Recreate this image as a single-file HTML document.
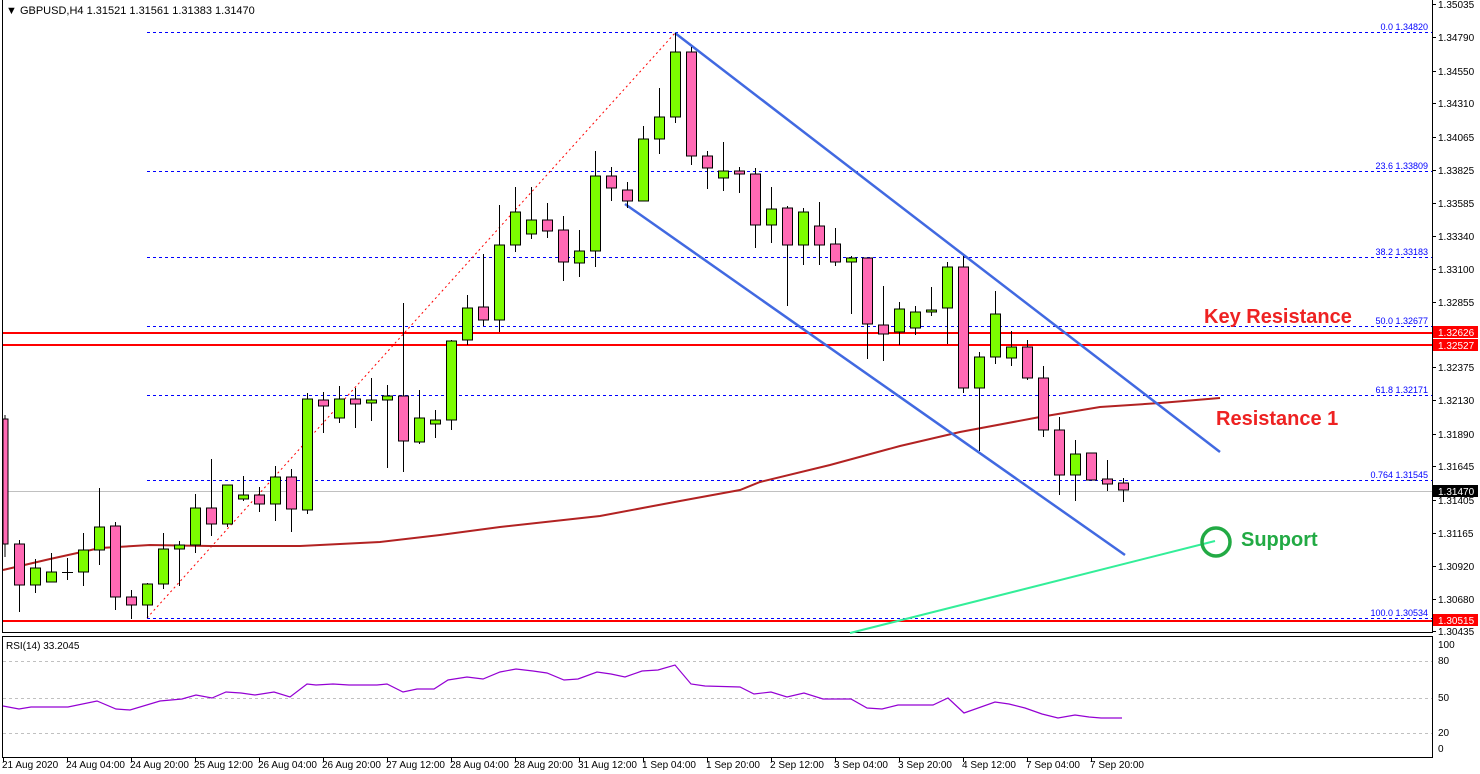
<!DOCTYPE html>
<html><head><meta charset="utf-8"><style>
html,body{margin:0;padding:0;background:#fff;}
svg{display:block;font-family:"Liberation Sans",sans-serif;}
</style></head><body>
<svg width="1480" height="774" viewBox="0 0 1480 774" xmlns="http://www.w3.org/2000/svg">
<rect width="1480" height="774" fill="#fff"/>
<!-- frames -->
<line x1="2.5" y1="0" x2="2.5" y2="633" stroke="#000"/>
<line x1="1432.5" y1="0" x2="1432.5" y2="633" stroke="#000"/>
<line x1="2" y1="632.5" x2="1433" y2="632.5" stroke="#000"/>
<rect x="2.5" y="636.5" width="1430" height="121" fill="none" stroke="#000"/>
<text x="6" y="14" font-size="11" fill="#000">▼ GBPUSD,H4  1.31521 1.31561 1.31383 1.31470</text>

<!-- current price line -->
<line x1="3" y1="491.5" x2="1432" y2="491.5" stroke="#c0c0c0"/>

<!-- fib levels -->
<g stroke="#0000ff" stroke-dasharray="3,3" stroke-width="1">
<line x1="147" y1="32.5" x2="1432" y2="32.5"/>
<line x1="147" y1="171.5" x2="1432" y2="171.5"/>
<line x1="147" y1="257.5" x2="1432" y2="257.5"/>
<line x1="147" y1="326.5" x2="1432" y2="326.5"/>
<line x1="147" y1="395.5" x2="1432" y2="395.5"/>
<line x1="147" y1="480.5" x2="1432" y2="480.5"/>
<line x1="147" y1="618.5" x2="1432" y2="618.5"/>
</g>
<g font-size="9" fill="#0000ff" text-anchor="end">
<text x="1428" y="30">0.0 1.34820</text>
<text x="1428" y="169">23.6 1.33809</text>
<text x="1428" y="255">38.2 1.33183</text>
<text x="1428" y="324">50.0 1.32677</text>
<text x="1428" y="393">61.8 1.32171</text>
<text x="1428" y="478">0.764 1.31545</text>
<text x="1428" y="616">100.0 1.30534</text>
</g>
<!-- fib diagonal -->
<line x1="147" y1="618" x2="675" y2="33" stroke="#ff0000" stroke-dasharray="2,3"/>

<!-- red horizontal lines -->
<g stroke="#ff0000" stroke-width="2">
<line x1="3" y1="333" x2="1432" y2="333"/>
<line x1="3" y1="345" x2="1432" y2="345"/>
<line x1="3" y1="621" x2="1432" y2="621"/>
</g>

<!-- MA -->
<polyline fill="none" stroke="#b22222" stroke-width="2" points="3,570 50,559 100,548 150,545 210,546 300,546 380,542 440,535 500,527 600,516 680,501 740,490 760,482 830,465 900,446 960,432 1040,417 1100,407 1160,403 1220,398"/>
<!-- green line -->
<line x1="850" y1="633" x2="1215" y2="541" stroke="#33ee99" stroke-width="2"/>
<!-- channel -->
<line x1="675" y1="33" x2="1220" y2="452" stroke="#4169e1" stroke-width="2.5"/>
<line x1="625" y1="204" x2="1125" y2="555" stroke="#4169e1" stroke-width="2.5"/>

<!-- candles -->
<g stroke="#000" stroke-width="1">
<line x1="5" y1="415" x2="5" y2="557"/><rect x="3" y="419" width="5" height="125" fill="#ff69b4"/>
<line x1="19.5" y1="540" x2="19.5" y2="612"/><rect x="14.5" y="544" width="10" height="41" fill="#ff69b4"/>
<line x1="35.5" y1="559" x2="35.5" y2="593"/><rect x="30.5" y="568" width="10" height="17" fill="#7cfc00"/>
<line x1="51.5" y1="553" x2="51.5" y2="582"/><rect x="46.5" y="572" width="10" height="10" fill="#7cfc00"/>
<line x1="67.5" y1="558" x2="67.5" y2="580"/><line x1="62" y1="572.5" x2="73" y2="572.5"/>
<line x1="83.5" y1="533" x2="83.5" y2="586"/><rect x="78.5" y="550" width="10" height="22" fill="#7cfc00"/>
<line x1="99.5" y1="488" x2="99.5" y2="565"/><rect x="94.5" y="527" width="10" height="23" fill="#7cfc00"/>
<line x1="115.5" y1="522" x2="115.5" y2="610"/><rect x="110.5" y="526" width="10" height="71" fill="#ff69b4"/>
<line x1="131.5" y1="590" x2="131.5" y2="619"/><rect x="126.5" y="597" width="10" height="8" fill="#ff69b4"/>
<line x1="147.5" y1="583" x2="147.5" y2="618"/><rect x="142.5" y="584" width="10" height="21" fill="#7cfc00"/>
<line x1="163.5" y1="533" x2="163.5" y2="589"/><rect x="158.5" y="549" width="10" height="35" fill="#7cfc00"/>
<line x1="179.5" y1="541" x2="179.5" y2="586"/><rect x="174.5" y="545" width="10" height="4" fill="#7cfc00"/>
<line x1="195.5" y1="494" x2="195.5" y2="553"/><rect x="190.5" y="508" width="10" height="37" fill="#7cfc00"/>
<line x1="211.5" y1="459" x2="211.5" y2="536"/><rect x="206.5" y="508" width="10" height="16" fill="#ff69b4"/>
<line x1="227.5" y1="485" x2="227.5" y2="527"/><rect x="222.5" y="485" width="10" height="39" fill="#7cfc00"/>
<line x1="243.5" y1="476" x2="243.5" y2="501"/><rect x="238.5" y="495" width="10" height="4" fill="#7cfc00"/>
<line x1="259.5" y1="487" x2="259.5" y2="512"/><rect x="254.5" y="495" width="10" height="9" fill="#ff69b4"/>
<line x1="275.5" y1="466" x2="275.5" y2="521"/><rect x="270.5" y="477" width="10" height="27" fill="#7cfc00"/>
<line x1="291.5" y1="469" x2="291.5" y2="532"/><rect x="286.5" y="477" width="10" height="32" fill="#ff69b4"/>
<line x1="307.5" y1="393" x2="307.5" y2="514"/><rect x="302.5" y="399" width="10" height="111" fill="#7cfc00"/>
<line x1="323.5" y1="392" x2="323.5" y2="433"/><rect x="318.5" y="400" width="10" height="6" fill="#ff69b4"/>
<line x1="339.5" y1="386" x2="339.5" y2="423"/><rect x="334.5" y="399" width="10" height="19" fill="#7cfc00"/>
<line x1="355.5" y1="388" x2="355.5" y2="428"/><rect x="350.5" y="399" width="10" height="5" fill="#ff69b4"/>
<line x1="371.5" y1="378" x2="371.5" y2="421"/><rect x="366.5" y="400" width="10" height="3" fill="#7cfc00"/>
<line x1="387.5" y1="385" x2="387.5" y2="468"/><rect x="382.5" y="396" width="10" height="4" fill="#7cfc00"/>
<line x1="403.5" y1="303" x2="403.5" y2="472"/><rect x="398.5" y="396" width="10" height="45" fill="#ff69b4"/>
<line x1="419.5" y1="390" x2="419.5" y2="444"/><rect x="414.5" y="418" width="10" height="24" fill="#7cfc00"/>
<line x1="435.5" y1="410" x2="435.5" y2="438"/><rect x="430.5" y="420" width="10" height="4" fill="#7cfc00"/>
<line x1="451.5" y1="340" x2="451.5" y2="430"/><rect x="446.5" y="341" width="10" height="79" fill="#7cfc00"/>
<line x1="467.5" y1="295" x2="467.5" y2="345"/><rect x="462.5" y="308" width="10" height="32" fill="#7cfc00"/>
<line x1="483.5" y1="254" x2="483.5" y2="326"/><rect x="478.5" y="307" width="10" height="13" fill="#ff69b4"/>
<line x1="499.5" y1="205" x2="499.5" y2="332"/><rect x="494.5" y="245" width="10" height="75" fill="#7cfc00"/>
<line x1="515.5" y1="187" x2="515.5" y2="252"/><rect x="510.5" y="212" width="10" height="33" fill="#7cfc00"/>
<line x1="531.5" y1="187" x2="531.5" y2="239"/><rect x="526.5" y="220" width="10" height="14" fill="#7cfc00"/>
<line x1="547.5" y1="203" x2="547.5" y2="238"/><rect x="542.5" y="220" width="10" height="11" fill="#ff69b4"/>
<line x1="563.5" y1="216" x2="563.5" y2="281"/><rect x="558.5" y="230" width="10" height="32" fill="#ff69b4"/>
<line x1="579.5" y1="230" x2="579.5" y2="277"/><rect x="574.5" y="251" width="10" height="12" fill="#7cfc00"/>
<line x1="595.5" y1="151" x2="595.5" y2="267"/><rect x="590.5" y="176" width="10" height="75" fill="#7cfc00"/>
<line x1="611.5" y1="167" x2="611.5" y2="201"/><rect x="606.5" y="176" width="10" height="12" fill="#ff69b4"/>
<line x1="627.5" y1="182" x2="627.5" y2="208"/><rect x="622.5" y="190" width="10" height="11" fill="#ff69b4"/>
<line x1="643.5" y1="126" x2="643.5" y2="201"/><rect x="638.5" y="139" width="10" height="62" fill="#7cfc00"/>
<line x1="659.5" y1="88" x2="659.5" y2="154"/><rect x="654.5" y="117" width="10" height="22" fill="#7cfc00"/>
<line x1="675.5" y1="33" x2="675.5" y2="123"/><rect x="670.5" y="52" width="10" height="65" fill="#7cfc00"/>
<line x1="691.5" y1="47" x2="691.5" y2="165"/><rect x="686.5" y="52" width="10" height="104" fill="#ff69b4"/>
<line x1="707.5" y1="151" x2="707.5" y2="189"/><rect x="702.5" y="156" width="10" height="12" fill="#ff69b4"/>
<line x1="723.5" y1="142" x2="723.5" y2="191"/><rect x="718.5" y="171" width="10" height="7" fill="#7cfc00"/>
<line x1="739.5" y1="167" x2="739.5" y2="193"/><rect x="734.5" y="171" width="10" height="3" fill="#ff69b4"/>
<line x1="755.5" y1="168" x2="755.5" y2="248"/><rect x="750.5" y="174" width="10" height="51" fill="#ff69b4"/>
<line x1="771.5" y1="187" x2="771.5" y2="243"/><rect x="766.5" y="209" width="10" height="16" fill="#7cfc00"/>
<line x1="787.5" y1="206" x2="787.5" y2="306"/><rect x="782.5" y="208" width="10" height="37" fill="#ff69b4"/>
<line x1="803.5" y1="208" x2="803.5" y2="265"/><rect x="798.5" y="212" width="10" height="33" fill="#7cfc00"/>
<line x1="819.5" y1="202" x2="819.5" y2="265"/><rect x="814.5" y="226" width="10" height="19" fill="#ff69b4"/>
<line x1="835.5" y1="228" x2="835.5" y2="266"/><rect x="830.5" y="244" width="10" height="18" fill="#ff69b4"/>
<line x1="851.5" y1="256" x2="851.5" y2="314"/><rect x="846.5" y="258" width="10" height="4" fill="#7cfc00"/>
<line x1="867.5" y1="258" x2="867.5" y2="359"/><rect x="862.5" y="258" width="10" height="66" fill="#ff69b4"/>
<line x1="883.5" y1="286" x2="883.5" y2="361"/><rect x="878.5" y="325" width="10" height="9" fill="#ff69b4"/>
<line x1="899.5" y1="302" x2="899.5" y2="345"/><rect x="894.5" y="309" width="10" height="23" fill="#7cfc00"/>
<line x1="915.5" y1="306" x2="915.5" y2="335"/><rect x="910.5" y="312" width="10" height="16" fill="#7cfc00"/>
<line x1="931.5" y1="287" x2="931.5" y2="316"/><rect x="926.5" y="310" width="10" height="2" fill="#7cfc00"/>
<line x1="947.5" y1="262" x2="947.5" y2="344"/><rect x="942.5" y="267" width="10" height="41" fill="#7cfc00"/>
<line x1="963.5" y1="256" x2="963.5" y2="393"/><rect x="958.5" y="267" width="10" height="121" fill="#ff69b4"/>
<line x1="979.5" y1="352" x2="979.5" y2="451"/><rect x="974.5" y="357" width="10" height="31" fill="#7cfc00"/>
<line x1="995.5" y1="291" x2="995.5" y2="364"/><rect x="990.5" y="314" width="10" height="43" fill="#7cfc00"/>
<line x1="1011.5" y1="331" x2="1011.5" y2="366"/><rect x="1006.5" y="347" width="10" height="11" fill="#7cfc00"/>
<line x1="1027.5" y1="340" x2="1027.5" y2="380"/><rect x="1022.5" y="347" width="10" height="31" fill="#ff69b4"/>
<line x1="1043.5" y1="366" x2="1043.5" y2="437"/><rect x="1038.5" y="378" width="10" height="52" fill="#ff69b4"/>
<line x1="1059.5" y1="417" x2="1059.5" y2="495"/><rect x="1054.5" y="430" width="10" height="45" fill="#ff69b4"/>
<line x1="1075.5" y1="440" x2="1075.5" y2="501"/><rect x="1070.5" y="454" width="10" height="21" fill="#7cfc00"/>
<line x1="1091.5" y1="453" x2="1091.5" y2="480"/><rect x="1086.5" y="453" width="10" height="27" fill="#ff69b4"/>
<line x1="1107.5" y1="460" x2="1107.5" y2="491"/><rect x="1102.5" y="479" width="10" height="5" fill="#ff69b4"/>
<line x1="1123.5" y1="478" x2="1123.5" y2="502"/><rect x="1118.5" y="483" width="10" height="7" fill="#ff69b4"/>
</g>

<!-- annotations -->
<g font-weight="bold" font-size="20" fill="#ee2222">
<text x="1204" y="323">Key Resistance</text>
<text x="1216" y="425">Resistance 1</text>
</g>
<circle cx="1216" cy="542" r="14" fill="none" stroke="#22aa44" stroke-width="3.5"/>
<text x="1241" y="546" font-weight="bold" font-size="20" fill="#22aa44">Support</text>

<!-- price axis -->
<g stroke="#000">
<line x1="1432" y1="4.5" x2="1436" y2="4.5"/><line x1="1432" y1="37.5" x2="1436" y2="37.5"/><line x1="1432" y1="71.5" x2="1436" y2="71.5"/><line x1="1432" y1="103.5" x2="1436" y2="103.5"/><line x1="1432" y1="137.5" x2="1436" y2="137.5"/><line x1="1432" y1="170.5" x2="1436" y2="170.5"/><line x1="1432" y1="203.5" x2="1436" y2="203.5"/><line x1="1432" y1="236.5" x2="1436" y2="236.5"/><line x1="1432" y1="269.5" x2="1436" y2="269.5"/><line x1="1432" y1="302.5" x2="1436" y2="302.5"/><line x1="1432" y1="367.5" x2="1436" y2="367.5"/><line x1="1432" y1="400.5" x2="1436" y2="400.5"/><line x1="1432" y1="434.5" x2="1436" y2="434.5"/><line x1="1432" y1="466.5" x2="1436" y2="466.5"/><line x1="1432" y1="500.5" x2="1436" y2="500.5"/><line x1="1432" y1="533.5" x2="1436" y2="533.5"/><line x1="1432" y1="566.5" x2="1436" y2="566.5"/><line x1="1432" y1="599.5" x2="1436" y2="599.5"/><line x1="1432" y1="631.5" x2="1436" y2="631.5"/>
</g>
<g font-size="10" fill="#000">
<text x="1438" y="8">1.35035</text><text x="1438" y="41">1.34790</text><text x="1438" y="75">1.34550</text><text x="1438" y="107">1.34310</text><text x="1438" y="141">1.34065</text><text x="1438" y="174">1.33825</text><text x="1438" y="207">1.33585</text><text x="1438" y="240">1.33340</text><text x="1438" y="273">1.33100</text><text x="1438" y="306">1.32855</text><text x="1438" y="371">1.32375</text><text x="1438" y="404">1.32130</text><text x="1438" y="438">1.31890</text><text x="1438" y="470">1.31645</text><text x="1438" y="504">1.31405</text><text x="1438" y="537">1.31165</text><text x="1438" y="570">1.30920</text><text x="1438" y="603">1.30680</text><text x="1438" y="635">1.30435</text>
</g>
<rect x="1433" y="326" width="45" height="12" fill="#ff0000"/><text x="1438" y="336" font-size="10" fill="#fff">1.32626</text>
<rect x="1433" y="339" width="45" height="12" fill="#ff0000"/><text x="1438" y="349" font-size="10" fill="#fff">1.32527</text>
<rect x="1433" y="485" width="45" height="12" fill="#000"/><text x="1438" y="495" font-size="10" fill="#fff">1.31470</text>
<rect x="1433" y="614" width="45" height="12" fill="#ff0000"/><text x="1438" y="624" font-size="10" fill="#fff">1.30515</text>

<!-- RSI -->
<text x="6" y="649" font-size="10" fill="#000">RSI(14) 33.2045</text>
<g stroke="#c0c0c0" stroke-dasharray="3,3">
<line x1="3" y1="661.5" x2="1432" y2="661.5"/>
<line x1="3" y1="698.5" x2="1432" y2="698.5"/>
<line x1="3" y1="733.5" x2="1432" y2="733.5"/>
</g>
<polyline fill="none" stroke="#9400d3" stroke-width="1.2" points="3,706 19,709 31,707 68,707 97,701 116,709 130,710 160,701 182,699 196,695 212,698 226,692 241,693 255,695 274,692 290,697 307,684 316,685 333,684 349,685 377,685 387,684 403,692 417,689 434,689 448,680 467,677 483,679 500,672 516,669 533,671 547,673 564,680 578,679 597,672 611,674 625,677 642,671 658,670 675,665 691,684 705,686 740,687 754,694 771,692 787,697 804,693 823,699 851,699 867,708 882,709 898,705 933,705 948,698 964,713 995,702 1009,704 1025,708 1042,714 1058,718 1075,715 1089,717 1101,718 1122,718"/>
<g font-size="10" fill="#000">
<text x="1438" y="648">100</text><text x="1438" y="664">80</text><text x="1438" y="701">50</text><text x="1438" y="736">20</text><text x="1438" y="752">0</text>
</g>

<!-- time axis -->
<g stroke="#000">
<line x1="3.5" y1="758" x2="3.5" y2="762"/><line x1="67.5" y1="758" x2="67.5" y2="762"/><line x1="131.5" y1="758" x2="131.5" y2="762"/><line x1="195.5" y1="758" x2="195.5" y2="762"/><line x1="259.5" y1="758" x2="259.5" y2="762"/><line x1="323.5" y1="758" x2="323.5" y2="762"/><line x1="387.5" y1="758" x2="387.5" y2="762"/><line x1="451.5" y1="758" x2="451.5" y2="762"/><line x1="515.5" y1="758" x2="515.5" y2="762"/><line x1="579.5" y1="758" x2="579.5" y2="762"/><line x1="643.5" y1="758" x2="643.5" y2="762"/><line x1="707.5" y1="758" x2="707.5" y2="762"/><line x1="771.5" y1="758" x2="771.5" y2="762"/><line x1="835.5" y1="758" x2="835.5" y2="762"/><line x1="899.5" y1="758" x2="899.5" y2="762"/><line x1="963.5" y1="758" x2="963.5" y2="762"/><line x1="1027.5" y1="758" x2="1027.5" y2="762"/><line x1="1091.5" y1="758" x2="1091.5" y2="762"/>
</g>
<g font-size="10" fill="#000">
<text x="2" y="768">21 Aug 2020</text><text x="66" y="768">24 Aug 04:00</text><text x="130" y="768">24 Aug 20:00</text><text x="194" y="768">25 Aug 12:00</text><text x="258" y="768">26 Aug 04:00</text><text x="322" y="768">26 Aug 20:00</text><text x="386" y="768">27 Aug 12:00</text><text x="450" y="768">28 Aug 04:00</text><text x="514" y="768">28 Aug 20:00</text><text x="578" y="768">31 Aug 12:00</text><text x="642" y="768">1 Sep 04:00</text><text x="706" y="768">1 Sep 20:00</text><text x="770" y="768">2 Sep 12:00</text><text x="834" y="768">3 Sep 04:00</text><text x="898" y="768">3 Sep 20:00</text><text x="962" y="768">4 Sep 12:00</text><text x="1026" y="768">7 Sep 04:00</text><text x="1090" y="768">7 Sep 20:00</text>
</g>
</svg>
</body></html>
